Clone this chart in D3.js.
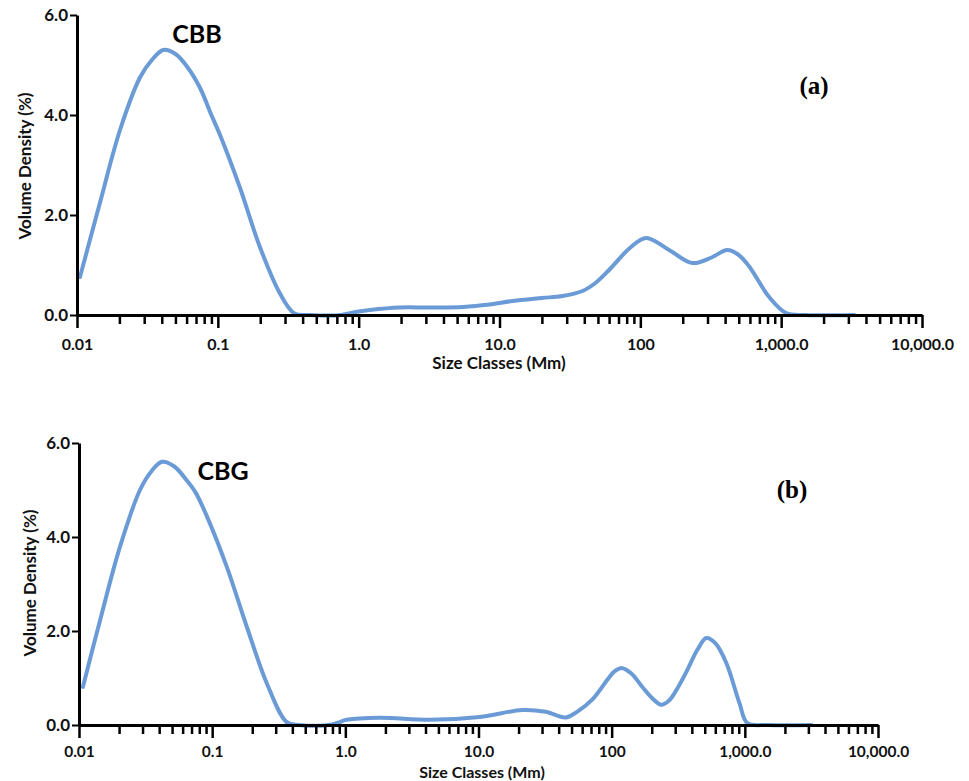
<!DOCTYPE html>
<html>
<head>
<meta charset="utf-8">
<script src="https://cdn.jsdelivr.net/npm/d3@7/dist/d3.min.js"></script>
<style>
  html, body { margin: 0; padding: 0; background: #fff; }
  svg { display: block; }
  .tick text { font-family: Lato, "Open Sans", sans-serif; font-weight: bold; }
</style>
</head>
<body>
<svg id="chart" width="969" height="781"></svg>
<script>
// ---------- data ----------
const xTickValues = [0.01, 0.1, 1, 10, 100, 1000, 10000];
const xTickLabels = ["0.01", "0.1", "1.0", "10.0", "100", "1,000.0", "10,000.0"];
const yTickValues = [0, 2, 4, 6];
const yTickLabels = ["0.0", "2.0", "4.0", "6.0"];

const cbbSize = [0.0105, 0.0146, 0.0202, 0.028, 0.034, 0.041, 0.05, 0.06, 0.0745, 0.09, 0.103, 0.143, 0.199, 0.275, 0.35, 0.45,
  0.75, 0.95, 1.2, 1.95, 3.2, 5.5, 8.5, 12.4, 20, 28, 38.8, 48, 60, 85, 110, 160, 234, 320, 414, 500, 593, 822, 1085, 1500, 3300];
const cbbDensity = [0.76, 2.26, 3.7, 4.75, 5.1, 5.3, 5.22, 4.98, 4.55, 4.0, 3.62, 2.56, 1.36, 0.44, 0.03, 0,
  0, 0.06, 0.1, 0.15, 0.15, 0.16, 0.21, 0.28, 0.34, 0.38, 0.48, 0.64, 0.9, 1.35, 1.54, 1.3, 1.04, 1.15, 1.3, 1.2, 0.97, 0.36, 0.04, 0, 0];

const cbgSize = [0.0107, 0.0144, 0.0203, 0.0287, 0.035, 0.042, 0.052, 0.0646, 0.075, 0.091, 0.129, 0.182, 0.257, 0.363, 0.45,
  0.75, 0.88, 1.02, 1.81, 4.3, 10.2, 21.4, 32, 45, 55, 72, 95, 105, 120, 140, 170, 200, 236, 270, 300, 364, 440, 514, 600, 726, 910, 1045, 1500, 3160];
const cbgDensity = [0.81, 2.23, 3.79, 5.0, 5.4, 5.6, 5.5, 5.2, 4.95, 4.45, 3.36, 2.09, 0.89, 0.06, 0,
  0, 0.05, 0.11, 0.155, 0.11, 0.17, 0.32, 0.28, 0.16, 0.28, 0.55, 1.0, 1.14, 1.21, 1.1, 0.81, 0.58, 0.43, 0.52, 0.7, 1.13, 1.6, 1.85, 1.74, 1.32, 0.47, 0.04, 0, 0];

const xTitle = "Size Classes (Mm)";
const yTitle = "Volume Density (%)";

// ---------- layout ----------
const panels = [
  { size: cbbSize, density: cbbDensity, name: "CBB", tag: "(a)",
    x0: 77, x1: 922, y0: 315, y1: 15,
    nameX: 197, nameY: 43, tagX: 814, tagY: 94,
    yTitleX: 25, yTitleY: 166, xTitleX: 499, xTitleY: 369, tickLabelY: 350 },
  { size: cbgSize, density: cbgDensity, name: "CBG", tag: "(b)",
    x0: 79, x1: 878, y0: 725, y1: 443,
    nameX: 223, nameY: 480, tagX: 792, tagY: 498,
    yTitleX: 30, yTitleY: 583, xTitleX: 482, xTitleY: 778, tickLabelY: 757 }
];

const svg = d3.select("#chart");
const lineColor = "#6b9bd6";
const font = "Lato, 'Open Sans', sans-serif";

// minor ticks 2..9 per decade
const minorTicks = [];
for (let e = -2; e < 4; e++) for (let m = 2; m <= 9; m++) minorTicks.push(m * Math.pow(10, e));

panels.forEach((p, pi) => {
  const x = d3.scaleLog().domain([0.01, 10000]).range([p.x0, p.x1]);
  const y = d3.scaleLinear().domain([0, 6]).range([p.y0, p.y1]);
  const g = svg.append("g");

  // curve
  const pts = p.size.map((s, i) => [s, p.density[i]]);
  g.append("path")
    .datum(pts)
    .attr("fill", "none")
    .attr("stroke", lineColor)
    .attr("stroke-width", 4)
    .attr("stroke-linejoin", "round")
    .attr("stroke-linecap", "round")
    .attr("d", d3.line().x(d => x(d[0])).y(d => y(d[1])).curve(d3.curveCatmullRom.alpha(0.5)));

  // x axis minor
  const minor = g.append("g").attr("transform", `translate(0,${p.y0})`)
    .call(d3.axisBottom(x).tickValues(minorTicks).tickSize(9).tickSizeOuter(0).tickFormat(""));
  minor.select(".domain").remove();
  minor.selectAll(".tick line").attr("stroke", "#000").attr("stroke-width", 2.5);

  // x axis major
  const major = g.append("g").attr("transform", `translate(0,${p.y0})`)
    .call(d3.axisBottom(x).tickValues(xTickValues).tickSize(13).tickSizeOuter(0)
      .tickFormat((d, i) => xTickLabels[i]));
  major.select(".domain").attr("stroke", "#000").attr("stroke-width", 3);
  major.selectAll(".tick line").attr("stroke", "#000").attr("stroke-width", 2.5);
  major.selectAll(".tick text").attr("y", null).attr("dy", null)
    .attr("transform", `translate(0,${p.tickLabelY - p.y0})`)
    .style("font-size", pi === 0 ? "16px" : "15.5px").attr("fill", "#111");

  // y axis
  const ya = g.append("g").attr("transform", `translate(${p.x0},0)`)
    .call(d3.axisLeft(y).tickValues(yTickValues).tickSize(7).tickSizeOuter(0)
      .tickFormat((d, i) => yTickLabels[i]));
  ya.select(".domain").attr("stroke", "#000").attr("stroke-width", 3);
  ya.selectAll(".tick line").attr("stroke", "#000").attr("stroke-width", 2);
  ya.selectAll(".tick text").attr("x", -9).style("font-size", "17px").attr("fill", "#111");

  // titles
  g.append("text").attr("x", p.xTitleX).attr("y", p.xTitleY).attr("text-anchor", "middle")
    .style("font-family", font).style("font-weight", "bold").style("font-size", pi === 0 ? "17px" : "16px")
    .attr("fill", "#111").text(xTitle);
  g.append("text").attr("transform", `translate(${p.yTitleX},${p.yTitleY}) rotate(-90)`)
    .attr("text-anchor", "middle").attr("dy", "0.35em")
    .style("font-family", font).style("font-weight", "bold").style("font-size", "17px")
    .attr("fill", "#111").text(yTitle);

  // sample name
  g.append("text").attr("x", p.nameX).attr("y", p.nameY).attr("text-anchor", "middle")
    .style("font-family", font).style("font-weight", "bold").style("font-size", "25px")
    .attr("fill", "#000").text(p.name);
  // panel tag
  g.append("text").attr("x", p.tagX).attr("y", p.tagY).attr("text-anchor", "middle")
    .style("font-family", "'Liberation Serif', 'Times New Roman', serif").style("font-weight", "bold")
    .style("font-size", "25px").attr("fill", "#000").text(p.tag);
});
</script>
</body>
</html>
